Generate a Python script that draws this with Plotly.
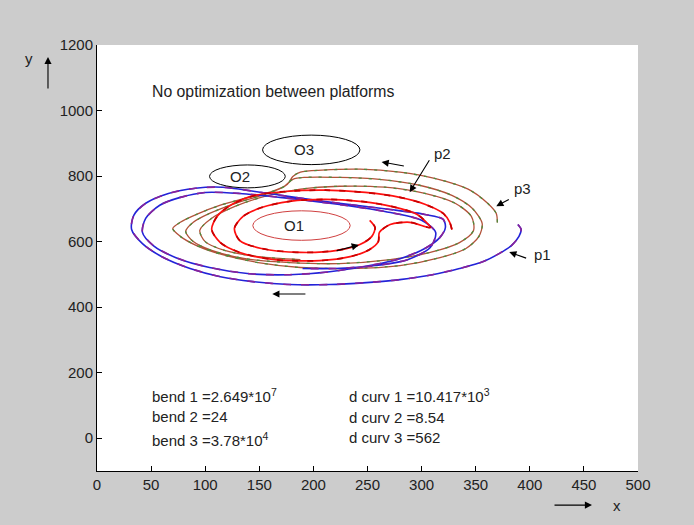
import plotly.graph_objects as go

# ---- data (data units) ----
p1_x = [389, 392, 390, 383, 372, 357, 335, 310, 280, 249, 215, 178, 144, 114, 86, 60, 42, 32, 34, 45,
        66, 91, 116, 146, 183, 224, 271, 303, 320, 322, 317, 303, 280, 252, 215, 178, 141, 104, 73, 52,
        42, 45, 58, 77, 100, 132, 169, 215, 266, 300, 313, 308, 287, 257, 220, 190]
p1_y = [652, 637, 616, 588, 564, 539, 518, 499, 484, 475, 469, 469, 478, 493, 518, 554, 594, 637, 680, 717,
        747, 763, 766, 753, 735, 717, 698, 683, 668, 643, 613, 579, 548, 527, 508, 499, 502, 521, 551, 588,
        628, 671, 711, 735, 750, 747, 735, 717, 692, 665, 628, 582, 545, 527, 518, 518]

p2_x = [328, 326, 320, 303, 280, 248, 211, 174, 146, 125, 111, 106, 114, 132, 164, 206, 234, 252, 260, 261,
        271, 289, 308, 296, 273, 243, 211, 178, 152, 135, 127, 132, 152, 188, 222, 243, 254, 257, 252]
p2_y = [637, 659, 686, 714, 735, 750, 757, 753, 741, 714, 677, 637, 597, 567, 545, 542, 554, 576, 600, 628,
        652, 659, 643, 683, 707, 723, 729, 723, 704, 677, 640, 603, 579, 567, 573, 591, 616, 643, 665]

p3_x = [370, 369, 361, 343, 312, 280, 243, 208, 188, 181, 176, 162, 140, 114, 92, 77, 70, 77, 92, 116,
        149, 188, 234, 280, 317, 341, 353, 356, 347, 328, 298, 261, 224, 192, 181, 172, 152, 128, 104, 89,
        82, 89, 106, 137, 178, 224, 271, 308, 335, 348, 346, 331, 303, 266, 224, 188, 155, 128, 106, 95,
        100, 118, 149, 188]
p3_y = [658, 686, 717, 760, 793, 812, 821, 818, 812, 799, 775, 753, 735, 711, 683, 659, 640, 616, 588, 560,
        536, 521, 518, 527, 551, 579, 616, 655, 701, 741, 772, 790, 796, 796, 790, 766, 741, 717, 686, 659,
        631, 600, 573, 548, 536, 533, 545, 567, 597, 634, 677, 717, 747, 766, 769, 760, 738, 708, 671, 634,
        600, 573, 554, 545]

obs_names = ["O1", "O2", "O3"]
obs_x = [189, 139, 198]
obs_y = [649, 799, 880]
obs_r = [45, 35, 45]
obs_colors = ["#d04040", "#000000", "#000000"]

x_ticks = [0, 50, 100, 150, 200, 250, 300, 350, 400, 450, 500]
y_ticks = [0, 200, 400, 600, 800, 1000, 1200]

FONT = "Liberation Sans, Arial, sans-serif"

fig = go.Figure()

def add_path(xs, ys, base, over, width, dash):
    fig.add_trace(go.Scatter(x=xs, y=ys, mode="lines",
                             line=dict(color=base, width=width, shape="spline", smoothing=0.8),
                             hoverinfo="skip", showlegend=False))
    fig.add_trace(go.Scatter(x=xs, y=ys, mode="lines",
                             line=dict(color=over, width=width, shape="spline", smoothing=0.8, dash=dash),
                             hoverinfo="skip", showlegend=False))

add_path(p3_x, p3_y, "#b2523a", "#4f8a3c", 1.3, "3px,7px")
add_path(p1_x, p1_y, "#2323d8", "#8a2299", 1.6, "8px,10px")
add_path(p2_x, p2_y, "#ff1010", "#c80000", 1.7, "6px,9px")

for name, cx, cy, r, c in zip(obs_names, obs_x, obs_y, obs_r, obs_colors):
    fig.add_shape(type="circle", xref="x", yref="y", x0=cx - r, x1=cx + r, y0=cy - r, y1=cy + r,
                  line=dict(color=c, width=1))
    fig.add_annotation(x=cx - 7, y=cy, text=name, showarrow=False, font=dict(family=FONT, size=15, color="#222"))

# text annotations
texts = [
    (49, 1057, "No optimization between platforms", 15.8),
    (49, 131, "bend 1 =2.649*10<sup>7</sup>", 15),
    (49, 67, "bend 2 =24", 15),
    (49, -3, "bend 3 =3.78*10<sup>4</sup>", 15),
    (231, 129, "d curv 1 =10.417*10<sup>3</sup>", 15),
    (231, 64, "d curv 2 =8.54", 15),
    (231, 3, "d curv 3 =562", 15),
    (412, 560, "p1", 15),
    (319, 869, "p2", 15),
    (393, 762, "p3", 15),
]
for tx, ty, t, fs in texts:
    anchor = "center" if t in ("p1", "p2", "p3") else "left"
    fig.add_annotation(x=tx, y=ty, text=t, showarrow=False, xanchor=anchor, yanchor="middle",
                       font=dict(family=FONT, size=fs, color="#222"))

# arrows (tip x,y ; tail ax,ay) in data units
arrows = [
    (381, 568, 398, 548),
    (289, 751, 308, 853),
    (369, 708, 382, 731),
    (263, 843, 285, 830),
    (242, 590, 220, 571),
    (162, 440, 194, 440),
]
for x, y, ax, ay in arrows:
    fig.add_annotation(x=x, y=y, ax=ax, ay=ay, xref="x", yref="y", axref="x", ayref="y",
                       text="", showarrow=True, arrowhead=2, arrowsize=1.3, arrowwidth=1.1,
                       arrowcolor="#000")

# axis label arrows
fig.add_annotation(x=0.915, y=-0.08, xref="paper", yref="paper", ax=-39, ay=0, text="",
                   showarrow=True, arrowhead=2, arrowsize=1.3, arrowwidth=1.1, arrowcolor="#000")
fig.add_annotation(x=0.962, y=-0.08, xref="paper", yref="paper", text="x", showarrow=False,
                   xanchor="center", yanchor="middle", font=dict(family=FONT, size=15, color="#222"))
fig.add_annotation(x=-0.0906, y=0.972, xref="paper", yref="paper", ax=0, ay=33, text="",
                   showarrow=True, arrowhead=2, arrowsize=1.3, arrowwidth=1.1, arrowcolor="#000")
fig.add_annotation(x=-0.126, y=0.968, xref="paper", yref="paper", text="y", showarrow=False,
                   xanchor="center", yanchor="middle", font=dict(family=FONT, size=15, color="#222"))

fig.update_layout(
    width=694, height=525,
    margin=dict(l=97, r=56, t=45, b=54),
    paper_bgcolor="#cccccc", plot_bgcolor="#ffffff",
    showlegend=False,
    font=dict(family=FONT, size=15, color="#222"),
    xaxis=dict(range=[0, 500], tickvals=x_ticks, ticks="inside", ticklen=5, tickcolor="#000",
               showline=True, linecolor="#000", linewidth=1, showgrid=False, zeroline=False,
               mirror=False, tickfont=dict(family=FONT, size=15, color="#222")),
    yaxis=dict(range=[-100, 1200], tickvals=y_ticks, ticks="inside", ticklen=5, tickcolor="#000",
               showline=True, linecolor="#000", linewidth=1, showgrid=False, zeroline=False,
               mirror=False, tickfont=dict(family=FONT, size=15, color="#222")),
)

fig.write_html("out.html", config={"displayModeBar": False},
               post_script="document.body.style.margin='0';document.body.style.background='#cccccc';")
